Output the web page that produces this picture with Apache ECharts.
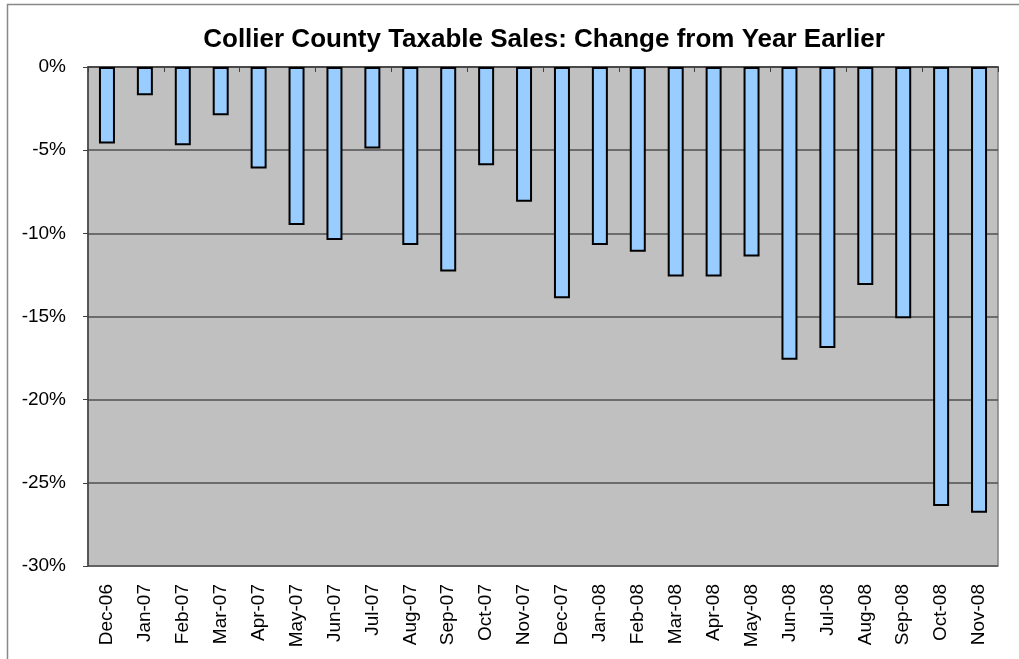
<!DOCTYPE html>
<html lang="en">
<head>
    <meta charset="utf-8">
    <title>Collier County Taxable Sales</title>
    <script src="https://cdn.jsdelivr.net/npm/echarts@6/dist/echarts.min.js"></script>
    <style>
        html, body { margin: 0; padding: 0; background: #fff; }
    </style>
</head>
<body>
    <div id="main" style="width: 1019px;height:659px;"></div>
    <script>
    var months = ['Dec-06', 'Jan-07', 'Feb-07', 'Mar-07', 'Apr-07', 'May-07', 'Jun-07', 'Jul-07',
        'Aug-07', 'Sep-07', 'Oct-07', 'Nov-07', 'Dec-07', 'Jan-08', 'Feb-08', 'Mar-08',
        'Apr-08', 'May-08', 'Jun-08', 'Jul-08', 'Aug-08', 'Sep-08', 'Oct-08', 'Nov-08'];
    // % change from a year earlier
    var change = [-4.6, -1.7, -4.7, -2.9, -6.1, -9.5, -10.4, -4.9,
        -10.7, -12.3, -5.9, -8.1, -13.9, -10.7, -11.1, -12.6,
        -12.6, -11.4, -17.6, -16.9, -13.1, -15.1, -26.4, -26.8];

    var myChart = echarts.init(document.getElementById('main'));
    var font = 'Liberation Sans, Arial, sans-serif';

    var option = {
        animation: false,
        backgroundColor: '#fff',
        title: {
            text: 'Collier County Taxable Sales: Change from Year Earlier',
            left: 539,
            textAlign: 'center',
            top: 22,
            textStyle: {
                fontFamily: font,
                fontSize: 26,
                fontWeight: 'bold',
                color: '#000'
            }
        },
        graphic: [
            { type: 'line', shape: { x1: 7, y1: 4.5, x2: 1019, y2: 4.5 }, style: { stroke: '#888', lineWidth: 1.5 } },
            { type: 'line', shape: { x1: 7.5, y1: 4, x2: 7.5, y2: 659 }, style: { stroke: '#888', lineWidth: 1.5 } }
        ],
        grid: {
            left: 88,
            right: 21,
            top: 67,
            bottom: 93,
            show: true,
            backgroundColor: '#c0c0c0',
            borderColor: '#808080',
            borderWidth: 1.5
        },
        xAxis: [{
            type: 'category',
            data: months,
            position: 'bottom',
            axisLine: { show: false },
            axisTick: { show: false },
            axisLabel: {
                rotate: 90,
                margin: 18,
                fontFamily: font,
                fontSize: 19,
                color: '#000'
            }
        }, {
            type: 'category',
            data: months,
            position: 'top',
            axisLine: { show: true, lineStyle: { color: '#404040', width: 1.5 } },
            axisTick: { show: true, inside: true, length: 5, lineStyle: { color: '#404040' } },
            axisLabel: { show: false }
        }],
        yAxis: {
            type: 'value',
            min: -30,
            max: 0,
            interval: 5,
            axisLine: { show: true, lineStyle: { color: '#404040', width: 1.5 } },
            axisTick: { show: true, length: 5, lineStyle: { color: '#404040' } },
            splitLine: { show: true, lineStyle: { color: '#505050', width: 1.5 } },
            axisLabel: {
                formatter: '{value}%',
                margin: 22,
                fontFamily: font,
                fontSize: 19,
                color: '#000'
            }
        },
        series: [{
            type: 'bar',
            data: change,
            barWidth: 16,
            itemStyle: {
                color: '#99ccff',
                borderColor: '#000',
                borderWidth: 2
            }
        }]
    };
    myChart.setOption(option);
    </script>
</body>
</html>
